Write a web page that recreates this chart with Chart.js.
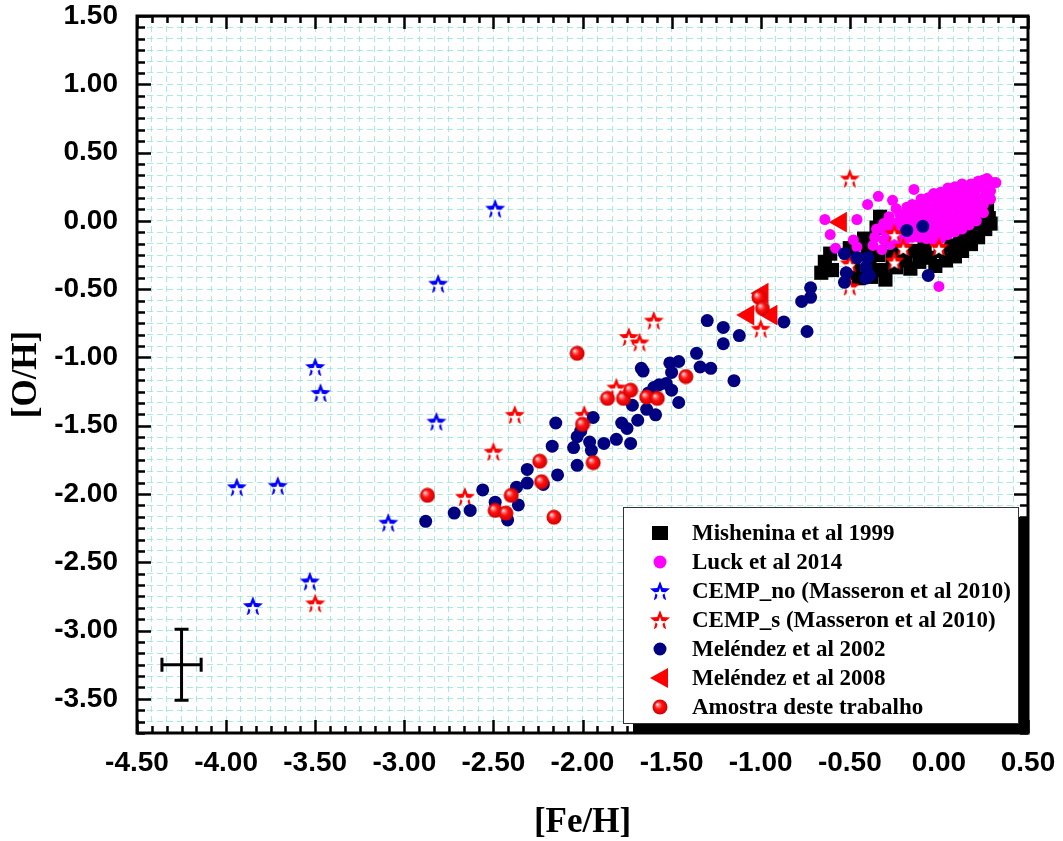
<!DOCTYPE html>
<html>
<head>
<meta charset="utf-8">
<script src="https://cdn.jsdelivr.net/npm/chart.js@4.4.1/dist/chart.umd.min.js"></script>
<style>
  html, body { margin: 0; background: #fff; }
  #wrap { width: 1063px; height: 841px; }
</style>
</head>
<body>
<div id="wrap"><canvas id="oxyChart" width="1063" height="841"></canvas></div>
<script>
// ---------- data: [Fe/H], [O/H] ----------
const mishenina = [
  [-0.66,-0.38],[-0.64,-0.30],[-0.61,-0.24],[-0.60,-0.36],
  [-0.50,-0.20],[-0.48,-0.28],[-0.48,-0.38],[-0.45,-0.42],
  [-0.42,-0.13],[-0.40,-0.22],[-0.39,-0.32],[-0.38,-0.41],[-0.35,-0.05],[-0.33,0.03],
  [-0.34,-0.25],[-0.32,-0.36],[-0.30,-0.43],[-0.28,-0.15],[-0.26,-0.26],[-0.24,-0.34],
  [-0.22,-0.20],[-0.19,-0.29],[-0.16,-0.35],[-0.14,-0.22],[-0.11,-0.30],[-0.08,-0.20],
  [-0.05,-0.27],[-0.02,-0.33],[0.01,-0.22],[0.04,-0.29],[0.07,-0.18],[0.09,-0.26],
  [0.12,-0.12],[0.13,-0.22],[0.16,-0.08],[0.18,-0.17],[0.21,-0.02],[0.22,-0.12],
  [0.24,0.05],[0.26,-0.06],[0.27,0.10],[0.28,0.02],[0.29,-0.02]
];

const luck = [
  [-0.64,0.01],[-0.61,-0.10],[-0.58,-0.20],[-0.46,0.01],[-0.48,-0.14],[-0.46,-0.19],
  [-0.40,0.12],[-0.34,0.18],[-0.26,0.15],[-0.14,0.23],[0.00,-0.48],[0.19,0.03],
  [0.32,0.28],[0.27,0.31],
  [-0.37,-0.18],[-0.36,-0.12],[-0.35,-0.06],
  [-0.32,-0.21],[-0.31,-0.14],[-0.30,-0.08],[-0.31,-0.02],
  [-0.27,-0.17],[-0.27,-0.10],[-0.26,-0.04],[-0.28,0.03],
  [-0.23,-0.13],[-0.22,-0.07],[-0.23,-0.01],[-0.22,0.05],[-0.24,0.09],
  [-0.19,-0.14],[-0.19,-0.08],[-0.18,-0.02],[-0.19,0.04],[-0.18,0.10],
  [-0.15,-0.12],[-0.15,-0.06],[-0.14,0.00],[-0.15,0.06],[-0.15,0.12],
  [-0.11,-0.12],[-0.11,-0.06],[-0.10,0.00],[-0.11,0.06],[-0.11,0.12],[-0.10,0.16],
  [-0.07,-0.13],[-0.07,-0.07],[-0.06,-0.01],[-0.07,0.05],[-0.07,0.11],[-0.06,0.17],
  [-0.03,-0.14],[-0.03,-0.08],[-0.02,-0.02],[-0.03,0.04],[-0.03,0.10],[-0.02,0.16],[-0.03,0.20],
  [0.01,-0.13],[0.01,-0.07],[0.02,-0.01],[0.01,0.05],[0.01,0.11],[0.02,0.17],[0.01,0.21],
  [0.05,-0.10],[0.05,-0.04],[0.06,0.02],[0.05,0.08],[0.05,0.14],[0.06,0.20],[0.05,0.24],
  [0.09,-0.08],[0.09,-0.02],[0.10,0.04],[0.09,0.10],[0.09,0.16],[0.10,0.22],[0.09,0.25],
  [0.13,-0.06],[0.13,0.00],[0.14,0.06],[0.13,0.12],[0.13,0.18],[0.14,0.24],[0.13,0.27],
  [0.17,-0.03],[0.17,0.03],[0.18,0.09],[0.17,0.15],[0.17,0.21],[0.18,0.27],
  [0.21,0.00],[0.21,0.06],[0.22,0.12],[0.21,0.18],[0.21,0.24],[0.22,0.29],
  [0.25,0.06],[0.25,0.12],[0.26,0.18],[0.25,0.24],[0.25,0.30],
  [0.29,0.16],[0.29,0.22],[0.30,0.28]
];

const cempNo = [
  [-2.49,0.09],[-2.81,-0.46],[-3.50,-1.07],[-3.47,-1.26],[-2.82,-1.47],
  [-3.94,-1.95],[-3.71,-1.94],[-3.09,-2.21],[-3.53,-2.64],[-3.85,-2.82]
];

const cempS = [
  [-2.38,-1.42],[-2.50,-1.69],[-2.66,-2.02],[-3.50,-2.80],[-1.60,-0.73],
  [-1.74,-0.85],[-1.68,-0.89],[-1.81,-1.22],[-1.99,-1.42],[-1.00,-0.79],
  [-0.50,0.31],[-0.25,-0.09],[-0.20,-0.19],[-0.25,-0.29],[0.00,-0.19],
  [-0.50,-0.31],[-0.50,-0.48]
];

const melendez2002 = [
  [-2.88,-2.20],[-2.72,-2.14],[-2.63,-2.12],[-2.56,-1.97],[-2.49,-2.06],[-2.42,-2.19],
  [-2.36,-2.08],[-2.37,-1.95],[-2.31,-1.92],[-2.31,-1.82],[-2.22,-1.93],[-2.14,-1.86],
  [-2.17,-1.65],[-2.15,-1.48],[-2.03,-1.79],[-2.05,-1.66],[-2.03,-1.58],[-2.01,-1.54],
  [-1.94,-1.44],[-1.96,-1.62],[-1.95,-1.68],[-1.88,-1.63],[-1.81,-1.60],[-1.78,-1.48],
  [-1.75,-1.52],[-1.73,-1.63],[-1.69,-1.46],[-1.72,-1.35],[-1.64,-1.38],[-1.59,-1.42],
  [-1.67,-1.08],[-1.66,-1.10],[-1.57,-1.20],[-1.53,-1.19],[-1.50,-1.24],[-1.51,-1.04],
  [-1.46,-1.03],[-1.50,-1.11],[-1.46,-1.33],[-1.36,-0.97],[-1.34,-1.07],[-1.28,-1.08],
  [-1.21,-0.90],[-1.15,-1.17],[-1.21,-0.78],[-1.60,-1.22],[-1.63,-1.26],[-1.30,-0.73],
  [-1.12,-0.84],[-0.87,-0.74],[-0.77,-0.59],[-0.72,-0.49],[-0.72,-0.56],[-0.74,-0.81],
  [-0.53,-0.24],[-0.46,-0.27],[-0.40,-0.27],[-0.52,-0.38],[-0.53,-0.45],[-0.41,-0.34],
  [-0.39,-0.40],[-0.41,-0.42],[-0.18,-0.07],[-0.09,-0.04],[-0.06,-0.40]
];

const melendez2008 = [
  [-0.99,-0.53],[-1.07,-0.69],[-0.94,-0.69],[-0.55,-0.01]
];

const amostra = [
  [-2.87,-2.01],[-2.49,-2.12],[-2.43,-2.14],[-2.40,-2.01],[-2.24,-1.76],[-2.23,-1.91],
  [-2.16,-2.17],[-2.03,-0.97],[-2.00,-1.49],[-1.94,-1.77],[-1.86,-1.30],[-1.77,-1.30],
  [-1.73,-1.24],[-1.64,-1.29],[-1.58,-1.30],[-1.42,-1.14],[-1.01,-0.56],[-0.99,-0.64]
];

// typical uncertainty: centre [Fe/H], [O/H] and half-widths
const errCentre = [-4.25, -3.25];
const errHalf = [0.11, 0.26];

// axes
const xMajor = [-4.5, -4.0, -3.5, -3.0, -2.5, -2.0, -1.5, -1.0, -0.5, 0.0, 0.5];
const xLabels = ['-4.50','-4.00','-3.50','-3.00','-2.50','-2.00','-1.50','-1.00','-0.50','0.00','0.50'];
const yMajor = [-3.5, -3.0, -2.5, -2.0, -1.5, -1.0, -0.5, 0.0, 0.5, 1.0, 1.5];
const yLabels = ['-3.50','-3.00','-2.50','-2.00','-1.50','-1.00','-0.50','0.00','0.50','1.00','1.50'];
const minorPerMajor = 6;

const seriesNames = [
  'Mishenina et al 1999',
  'Luck et al 2014',
  'CEMP_no (Masseron et al 2010)',
  'CEMP_s (Masseron et al 2010)',
  'Meléndez et al 2002',
  'Meléndez et al 2008',
  'Amostra deste trabalho'
];

// ---------- marker images ----------
function starPath(g, cx, cy, R, r) {
  g.beginPath();
  for (let i = 0; i < 10; i++) {
    const a = -Math.PI / 2 + i * Math.PI / 5;
    const rad = i % 2 ? r : R;
    g.lineTo(cx + rad * Math.cos(a), cy + rad * Math.sin(a));
  }
  g.closePath();
}

// filled star with a white hollow sitting low inside it
function makeStar(color, size) {
  const c = document.createElement('canvas');
  c.width = c.height = size;
  const g = c.getContext('2d');
  const R = size / 2 - 0.5;
  starPath(g, size / 2, size / 2 + 0.8, R, R * 0.44);
  g.fillStyle = color;
  g.fill();
  starPath(g, size / 2, size / 2 + R * 0.3, R * 0.58, R * 0.25);
  g.fillStyle = '#fff';
  g.fill();
  return c;
}

function makeSphere(size) {
  const c = document.createElement('canvas');
  c.width = c.height = size;
  const g = c.getContext('2d');
  const m = size / 2, r = size / 2 - 0.5;
  const grad = g.createRadialGradient(m - r * 0.38, m - r * 0.38, 0, m, m, r);
  grad.addColorStop(0, '#ffffff');
  grad.addColorStop(0.22, '#ff8080');
  grad.addColorStop(0.5, '#ff1010');
  grad.addColorStop(1, '#d00000');
  g.beginPath();
  g.arc(m, m, r, 0, Math.PI * 2);
  g.fillStyle = grad;
  g.fill();
  return c;
}

const blueStar = makeStar('#0000ff', 22);
const redStar = makeStar('#ff0000', 22);
const sphere = makeSphere(16);

const toPoints = arr => arr.map(p => ({ x: p[0], y: p[1] }));

// ---------- ticks ----------
function fillTicks(scale, majors) {
  const step = (majors[1] - majors[0]) / minorPerMajor;
  const n = Math.round((scale.max - scale.min) / step);
  const ticks = [];
  for (let i = 0; i <= n; i++) ticks.push({ value: +(scale.min + i * step).toFixed(6) });
  scale.ticks = ticks;
}
const majorIndex = (majors, v) => majors.findIndex(m => Math.abs(m - v) < 1e-6);

// labels may hang over the plot edges, so no extra room is reserved for them
function noLabelPadding(s) {
  s.paddingTop = 0; s.paddingBottom = 0; s.paddingLeft = 0; s.paddingRight = 0;
}

// ---------- frame, inward ticks, error bar and legend ----------
const decor = {
  id: 'decor',
  beforeDraw(chart) {
    const ctx = chart.ctx;
    ctx.save();
    ctx.fillStyle = '#fff';
    ctx.fillRect(0, 0, chart.width, chart.height);
    ctx.restore();
  },
  afterDatasetsDraw(chart) {
    const { ctx, chartArea: ca, scales: { x, y } } = chart;
    ctx.save();

    // error bar
    const ex = x.getPixelForValue(errCentre[0]);
    const ey = y.getPixelForValue(errCentre[1]);
    const exl = x.getPixelForValue(errCentre[0] - errHalf[0]);
    const exr = x.getPixelForValue(errCentre[0] + errHalf[0]);
    const eyt = y.getPixelForValue(errCentre[1] + errHalf[1]);
    const eyb = y.getPixelForValue(errCentre[1] - errHalf[1]);
    ctx.strokeStyle = '#000';
    ctx.lineWidth = 3;
    ctx.beginPath();
    ctx.moveTo(exl, ey); ctx.lineTo(exr, ey);
    ctx.moveTo(ex, eyt); ctx.lineTo(ex, eyb);
    ctx.moveTo(exl, ey - 7); ctx.lineTo(exl, ey + 7);
    ctx.moveTo(exr, ey - 7); ctx.lineTo(exr, ey + 7);
    ctx.moveTo(ex - 7, eyt); ctx.lineTo(ex + 7, eyt);
    ctx.moveTo(ex - 7, eyb); ctx.lineTo(ex + 7, eyb);
    ctx.stroke();

    // inward tick marks on all four sides
    ctx.lineWidth = 2.5;
    ctx.beginPath();
    x.ticks.forEach(t => {
      const px = Math.round(x.getPixelForValue(t.value)) + 0.5;
      const len = majorIndex(xMajor, t.value) >= 0 ? 13 : 7;
      ctx.moveTo(px, ca.bottom); ctx.lineTo(px, ca.bottom - len);
      ctx.moveTo(px, ca.top); ctx.lineTo(px, ca.top + len);
    });
    y.ticks.forEach(t => {
      const py = Math.round(y.getPixelForValue(t.value)) + 0.5;
      const len = majorIndex(yMajor, t.value) >= 0 ? 14 : 8;
      ctx.moveTo(ca.left, py); ctx.lineTo(ca.left + len, py);
      ctx.moveTo(ca.right, py); ctx.lineTo(ca.right - len, py);
    });
    ctx.stroke();

    // legend box with drop shadow
    const lw = 395, lh = 216;
    const lx = ca.right - 405, ly = ca.bottom - 226;
    ctx.fillStyle = '#000';
    ctx.fillRect(lx + 10, ly + 10, lw, lh);
    ctx.fillStyle = '#fff';
    ctx.fillRect(lx, ly, lw, lh);
    ctx.strokeStyle = '#333';
    ctx.lineWidth = 1;
    ctx.strokeRect(lx + 0.5, ly + 0.5, lw, lh);

    const mx = lx + 37, tx = lx + 69;
    ctx.font = 'bold 23px "Liberation Serif", "Times New Roman", serif';
    ctx.textBaseline = 'middle';
    chart.data.datasets.forEach((ds, i) => {
      const ry = ly + 26 + i * 29;
      const st = ds.pointStyle;
      ctx.fillStyle = ds.backgroundColor;
      if (st instanceof HTMLCanvasElement) {
        ctx.drawImage(st, mx - st.width / 2, ry - st.height / 2);
      } else if (st === 'rect') {
        ctx.fillRect(mx - 8, ry - 7, 16, 14);
      } else if (st === 'triangle') {
        ctx.beginPath();
        ctx.moveTo(mx - 10, ry);
        ctx.lineTo(mx + 8, ry - 10);
        ctx.lineTo(mx + 8, ry + 10);
        ctx.closePath();
        ctx.fill();
      } else {
        ctx.beginPath();
        ctx.arc(mx, ry, 6.5, 0, Math.PI * 2);
        ctx.fill();
      }
      ctx.fillStyle = '#000';
      ctx.fillText(ds.label, tx, ry + 1);
    });

    // plot frame
    ctx.strokeStyle = '#000';
    ctx.lineWidth = 3;
    ctx.strokeRect(ca.left, ca.top, ca.right - ca.left, ca.bottom - ca.top);
    ctx.restore();
  }
};

const tickFont = { family: '"Liberation Sans", Arial, sans-serif', size: 28, weight: 'bold' };
const titleFont = { family: '"Liberation Serif", "Times New Roman", serif', size: 35, weight: 'bold', lineHeight: 1.05 };
const gridOpts = { color: 'rgba(140,228,218,0.75)', lineWidth: 1, drawTicks: false };

new Chart(document.getElementById('oxyChart'), {
  type: 'scatter',
  data: {
    datasets: [
      { label: seriesNames[0], data: toPoints(mishenina), pointStyle: 'rect', pointRadius: 10,
        backgroundColor: '#000', borderWidth: 0, order: 7 },
      { label: seriesNames[1], data: toPoints(luck), pointStyle: 'circle', pointRadius: 5.5,
        backgroundColor: '#ff00ff', borderWidth: 0, order: 6 },
      { label: seriesNames[2], data: toPoints(cempNo), pointStyle: blueStar,
        backgroundColor: '#0000ff', order: 5 },
      { label: seriesNames[3], data: toPoints(cempS), pointStyle: redStar,
        backgroundColor: '#ff0000', order: 4 },
      { label: seriesNames[4], data: toPoints(melendez2002), pointStyle: 'circle', pointRadius: 6.5,
        backgroundColor: '#000080', borderWidth: 0, order: 3 },
      { label: seriesNames[5], data: toPoints(melendez2008), pointStyle: 'triangle', rotation: -90,
        pointRadius: 12, backgroundColor: '#ff0000', borderWidth: 0, order: 2 },
      { label: seriesNames[6], data: toPoints(amostra), pointStyle: sphere,
        backgroundColor: '#ff0000', order: 1 }
    ]
  },
  options: {
    responsive: false,
    devicePixelRatio: 1,
    animation: false,
    events: [],
    layout: { padding: { left: 0, top: 16, right: 35, bottom: 0 } },
    plugins: { legend: { display: false }, tooltip: { enabled: false } },
    scales: {
      x: {
        type: 'linear', position: 'bottom', min: -4.5, max: 0.5,
        afterBuildTicks: s => fillTicks(s, xMajor),
        afterFit: s => { s.height = 108; noLabelPadding(s); },
        grid: gridOpts,
        border: { display: false, dash: [6, 4] },
        ticks: {
          autoSkip: false, maxRotation: 0, padding: 13, color: '#000', font: tickFont,
          callback: v => { const i = majorIndex(xMajor, v); return i < 0 ? '' : xLabels[i]; }
        },
        title: { display: true, text: '[Fe/H]', color: '#000', font: titleFont, padding: { top: 0, bottom: 0 } }
      },
      y: {
        type: 'linear', position: 'left', min: -3.75, max: 1.5,
        afterBuildTicks: s => fillTicks(s, yMajor),
        afterFit: s => { s.width = 137; noLabelPadding(s); },
        grid: gridOpts,
        border: { display: false, dash: [6, 4] },
        ticks: {
          autoSkip: false, padding: 19, color: '#000', font: tickFont,
          callback: v => { const i = majorIndex(yMajor, v); return i < 0 ? '' : yLabels[i]; }
        },
        title: { display: true, text: '[O/H]', color: '#000', font: titleFont, padding: { top: 9, bottom: 0 } }
      }
    }
  },
  plugins: [decor]
});
</script>
</body>
</html>
